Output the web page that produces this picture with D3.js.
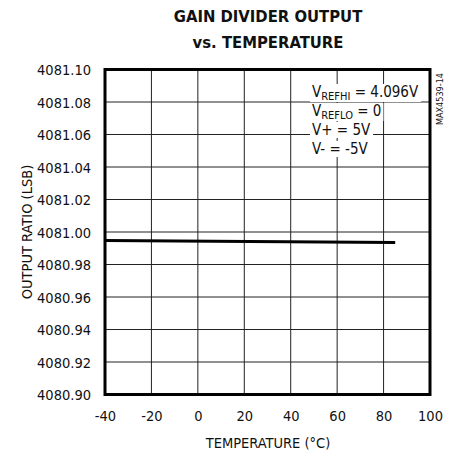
<!DOCTYPE html>
<html><head><meta charset="utf-8">
<script src="https://cdn.jsdelivr.net/npm/d3@7"></script>
<style>body{margin:0;background:#fff}svg text{font-family:"DejaVu Sans Condensed","Liberation Sans Narrow",sans-serif}</style>
</head><body><svg id="c" width="454" height="456"></svg>
<script>
const temps = [-40, 85];
const ratio = [4080.9948, 4080.9935];
const xTicks = [-40, -20, 0, 20, 40, 60, 80, 100];
const yTicks = [4080.90, 4080.92, 4080.94, 4080.96, 4080.98, 4081.00, 4081.02, 4081.04, 4081.06, 4081.08, 4081.10];
const legendLines = [["V","REFHI"," = 4.096V"],["V","REFLO"," = 0"],["V+ = 5V","",""],["V- = -5V","",""]];

const svg = d3.select("#c");
const L=105, R=430, T=69.5, B=394.5;
const x = d3.scaleLinear().domain([-40,100]).range([L,R]);
const y = d3.scaleLinear().domain([4080.90,4081.10]).range([B,T]);
const FF = '"DejaVu Sans Condensed",sans-serif';

// grid
svg.append("g").selectAll("line").data(xTicks.slice(1,-1)).join("line")
  .attr("x1",d=>x(d)).attr("x2",d=>x(d)).attr("y1",T).attr("y2",B)
  .attr("stroke","#222").attr("stroke-width",1);
svg.append("g").selectAll("line").data(yTicks.slice(1,-1)).join("line")
  .attr("x1",L).attr("x2",R).attr("y1",d=>y(d)).attr("y2",d=>y(d))
  .attr("stroke","#222").attr("stroke-width",1);

// legend with white backgrounds
const lg = svg.append("g");
const base = [97,116,135,154];
legendLines.forEach((ln,i)=>{
  const t = lg.append("text").attr("x",312).attr("y",base[i]).attr("font-size",15).attr("fill","#111");
  t.append("tspan").text(ln[0]);
  if(ln[1]){
    t.append("tspan").attr("font-size",11).attr("dy",3).text(ln[1]);
    t.append("tspan").attr("dy",-3).text(ln[2]);
  }
  const bb = t.node().getBBox();
  lg.insert("rect","text").attr("x",bb.x-2).attr("y",bb.y+1).attr("width",bb.width+4).attr("height",bb.height-2).attr("fill","#fff");
});

// data line
svg.append("path").datum(temps.map((t,i)=>[t,ratio[i]]))
  .attr("d",d3.line().x(d=>x(d[0])).y(d=>y(d[1])))
  .attr("fill","none").attr("stroke","#000").attr("stroke-width",3);

// frame
svg.append("rect").attr("x",L).attr("y",T).attr("width",R-L).attr("height",B-T)
  .attr("fill","none").attr("stroke","#000").attr("stroke-width",3);

// axes labels via d3 axis
const ya = svg.append("g").attr("transform",`translate(${L-11},0)`)
  .call(d3.axisLeft(y).tickValues(yTicks).tickFormat(d=>d.toFixed(2)).tickSize(0));
ya.select(".domain").remove();
ya.selectAll("text").attr("font-size",14.5).attr("fill","#111").attr("font-family",FF).attr("dy","0.36em");

const xa = svg.append("g").attr("transform",`translate(0,${B+13})`)
  .call(d3.axisBottom(x).tickValues(xTicks).tickFormat(d=>String(d)).tickSize(0));
xa.select(".domain").remove();
xa.selectAll("text").attr("font-size",14.5).attr("fill","#111").attr("font-family",FF).attr("dy","0.71em");

// titles
svg.append("text").attr("x",268).attr("y",22).attr("text-anchor","middle").attr("font-size",16.5).attr("font-weight","bold").attr("fill","#111").text("GAIN DIVIDER OUTPUT");
svg.append("text").attr("x",268).attr("y",48).attr("text-anchor","middle").attr("font-size",16.5).attr("font-weight","bold").attr("fill","#111").text("vs. TEMPERATURE");
svg.append("text").attr("x",268).attr("y",448).attr("text-anchor","middle").attr("font-size",14.5).attr("fill","#111").text("TEMPERATURE (°C)");
svg.append("text").attr("transform",`translate(32,232) rotate(-90)`).attr("text-anchor","middle").attr("font-size",14.5).attr("fill","#111").text("OUTPUT RATIO (LSB)");
svg.append("text").attr("transform",`translate(443,99) rotate(-90)`).attr("text-anchor","middle").attr("font-size",9).attr("fill","#111").text("MAX4539-14");
</script></body></html>
